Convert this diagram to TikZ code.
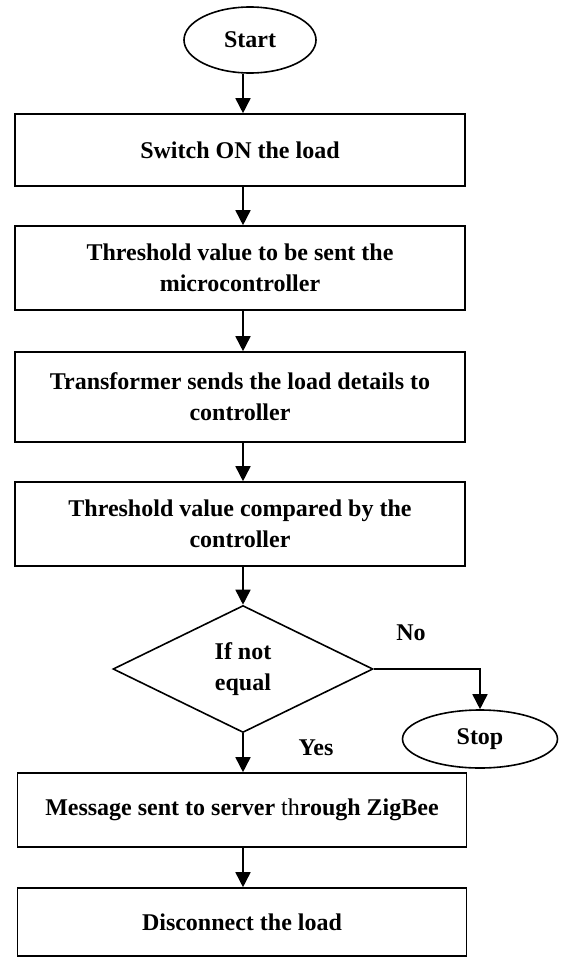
\documentclass[tikz,border=0pt]{standalone}
\usepackage{fontspec}
\setmainfont{Liberation Serif}
\usetikzlibrary{shapes.geometric,arrows.meta}
\begin{document}
\begin{tikzpicture}[x=1pt,y=-1pt,
  every node/.style={font=\bfseries\fontsize{24}{31}\selectfont,align=center,line width=1.6pt},
  procbox/.style={draw,rectangle,minimum width=450pt,inner sep=0pt},
  termbox/.style={draw,ellipse,inner sep=0pt},
  flowline/.style={line width=1.6pt,-{Triangle[length=15pt,width=15pt]}}]
\path[use as bounding box] (0,0) rectangle (560,959);
\path[fill=white,draw=none] (0,0) rectangle (560,959);
\node[termbox,minimum width=132pt,minimum height=66pt] (start) at (250,40) {Start};
\node[procbox,minimum height=72pt] (switchon) at (240,150) {Switch ON the load};
\node[procbox,minimum height=84pt] (sendthr) at (240,268) {Threshold value to be sent the\\microcontroller};
\node[procbox,minimum height=90pt] (trans) at (240,397) {Transformer sends the load details to\\controller};
\node[procbox,minimum height=84pt] (compare) at (240,524) {Threshold value compared by the\\controller};
\node[draw,diamond,minimum width=260pt,minimum height=127pt,inner sep=0pt] (cond) at (243,669) {If not\\equal};
\node[termbox,minimum width=155pt,minimum height=58pt] (stop) at (480,739) {Stop};
\node[procbox,minimum width=449pt,minimum height=74pt] (message) at (242,810) {Message sent to server {\mdseries th}rough ZigBee};
\node[procbox,minimum width=449pt,minimum height=68pt] (disconnect) at (242,922) {Disconnect the load};
\node (nolabel) at (411,633) {No};
\node (yeslabel) at (316,748) {Yes};
\draw[flowline] (start.south -| cond.north) -- (switchon.north -| cond.north);
\draw[flowline] (switchon.south -| cond.north) -- (sendthr.north -| cond.north);
\draw[flowline] (sendthr.south -| cond.north) -- (trans.north -| cond.north);
\draw[flowline] (trans.south -| cond.north) -- (compare.north -| cond.north);
\draw[flowline] (compare.south -| cond.north) -- (cond.north);
\draw[flowline] (cond.east) -| (stop.north);
\draw[flowline] (cond.south) -- (message.north -| cond.south);
\draw[flowline] (message.south -| cond.south) -- (disconnect.north -| cond.south);
\end{tikzpicture}
\end{document}
